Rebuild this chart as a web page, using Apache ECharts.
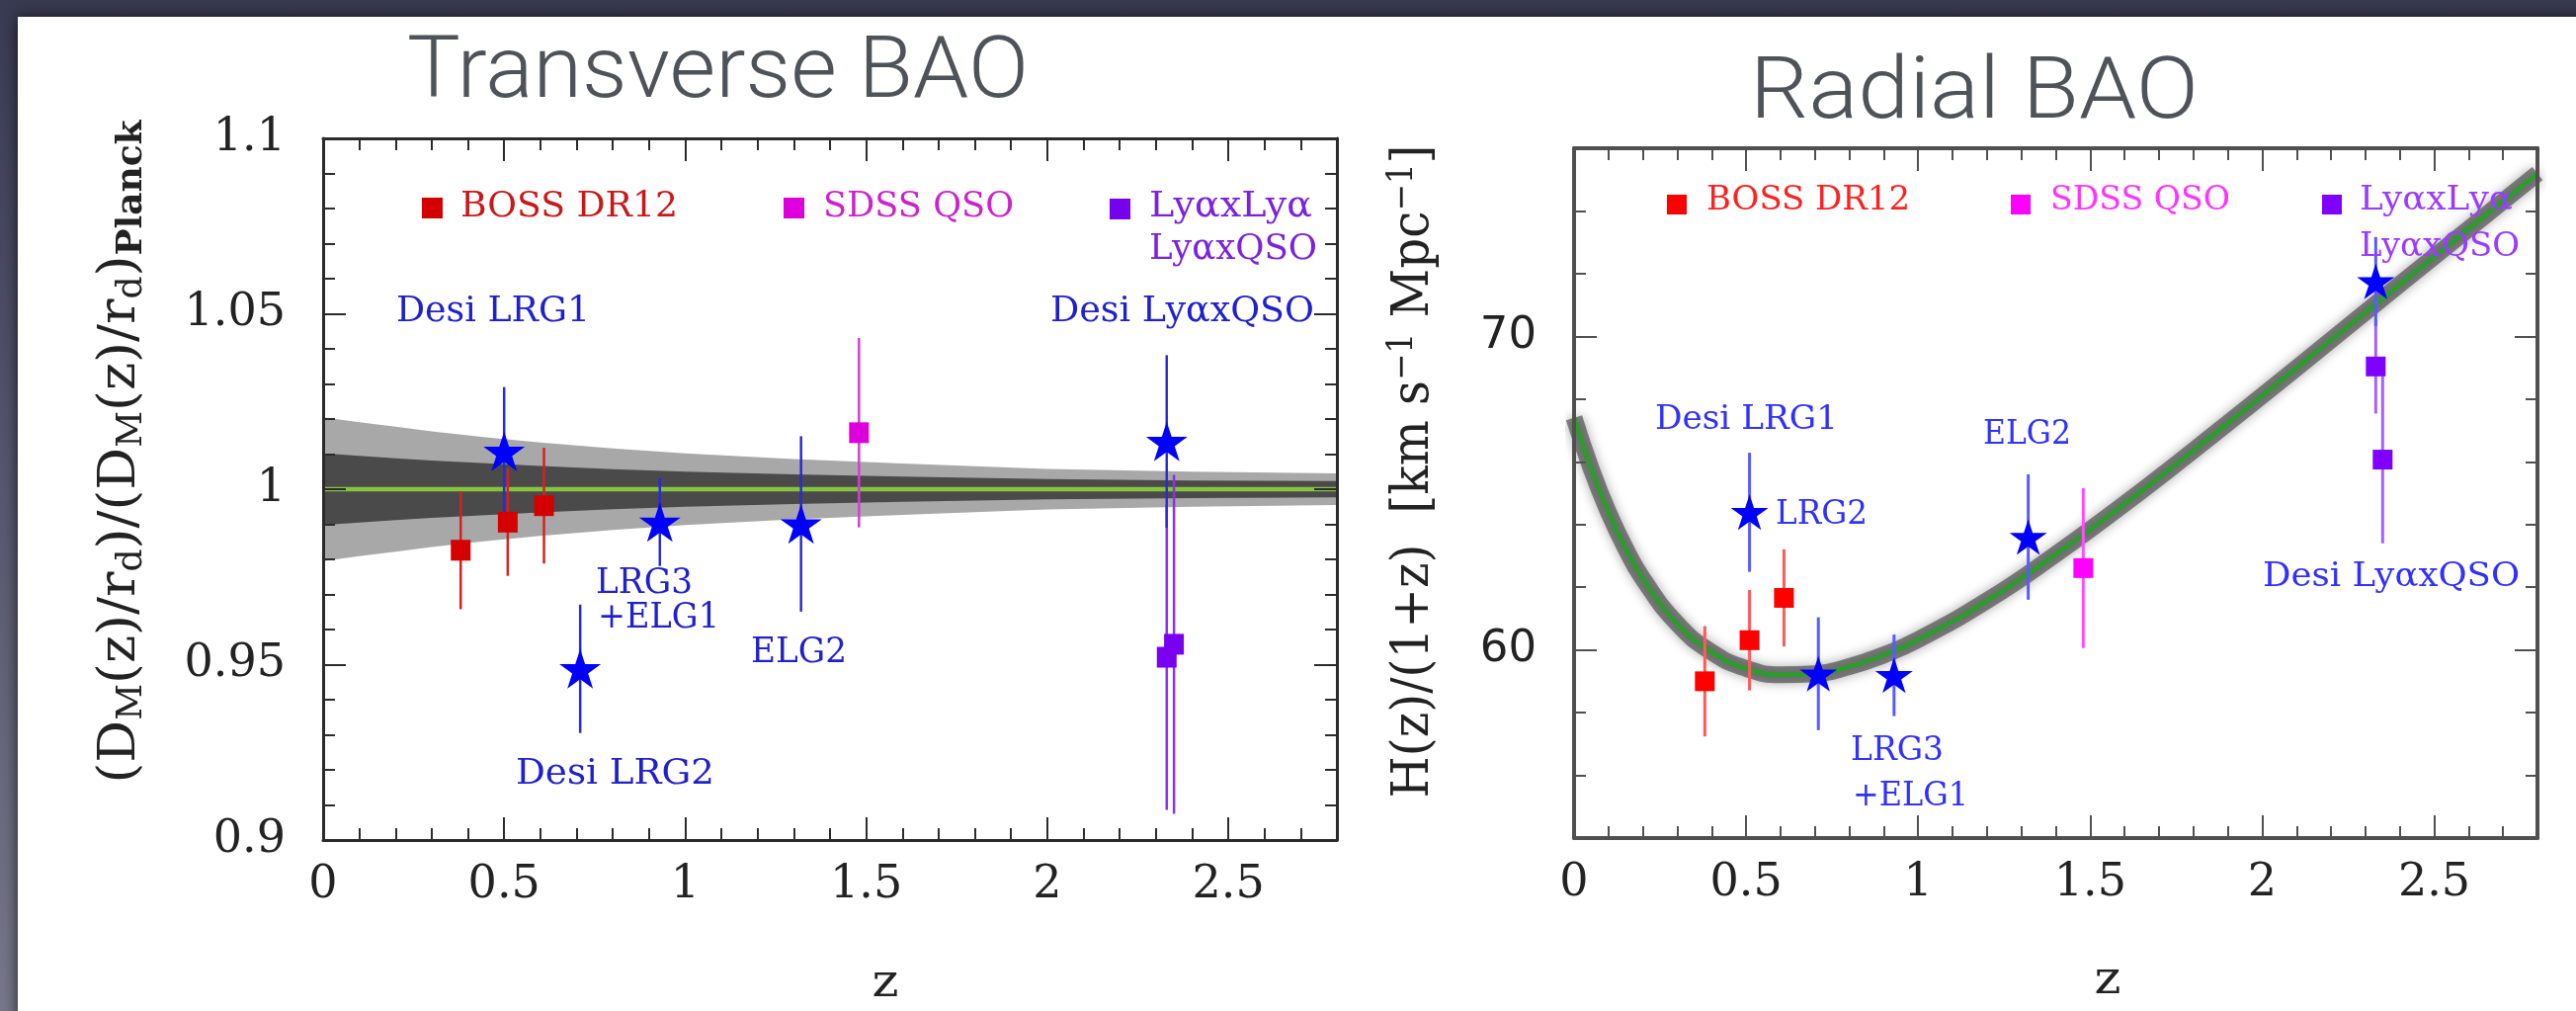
<!DOCTYPE html>
<html><head><meta charset="utf-8">
<script src="https://cdn.jsdelivr.net/npm/echarts@6.0.0/dist/echarts.min.js"></script>
<style>html,body{margin:0;padding:0;background:#3a3c54;overflow:hidden}#c{width:2607px;height:1023px}</style>
</head><body><div id="c"></div>
<script>
// ================= DATA =================
// tick values
const zTicks = [0, 0.5, 1, 1.5, 2, 2.5];
const tYTicks = [0.9, 0.95, 1, 1.05, 1.1];
const rYTicks = [60, 70];
const zMinor = []; for (let i = 1; i < 28; i++) if (i % 5) zMinor.push(i / 10);
const tYMinor = []; for (let i = 91; i < 110; i++) if (i % 5) tYMinor.push(i / 100);
const rYMinor = [56, 58, 62, 64, 66, 68, 72, 74];

// Transverse BAO (left)
const tBossZ = [0.38, 0.51, 0.61];
const tBossV = [0.9826, 0.9906, 0.9953];
const tBossE = [0.0168, 0.0153, 0.0165];
const tSdssZ = [1.48];
const tSdssV = [1.0161];
const tSdssE = [0.027];
const tLyaZ = [2.33, 2.35];
const tLyaV = [0.9521, 0.9558];
const tLyaE = [0.0435, 0.0483];
const tDesiZ = [0.50, 0.71, 0.93, 1.32, 2.33];
const tDesiV = [1.0108, 0.9488, 0.9906, 0.9901, 1.0136];
const tDesiE = [0.0183, 0.0183, 0.0125, 0.0250, 0.0246];
// Planck 1-sigma / 2-sigma half widths around 1
const bandZ = [0, 0.1, 0.2, 0.3, 0.45, 0.6, 0.8, 1.0, 1.3, 1.6, 2.0, 2.4, 2.8];
const band1 = [0.0102, 0.0095, 0.0088, 0.0082, 0.0074, 0.0066, 0.0057, 0.0050, 0.0042, 0.0036, 0.0029, 0.0025, 0.0023];
const band2 = [0.0205, 0.0191, 0.0178, 0.0165, 0.0148, 0.0133, 0.0116, 0.0102, 0.0086, 0.0073, 0.0058, 0.0050, 0.0045];
const refZ = [0, 2.8];
const refV = [1, 1];

// Radial BAO (right)
const rBossZ = [0.38, 0.51, 0.61];
const rBossV = [59.0, 60.31, 61.66];
const rBossE = [1.76, 1.6, 1.55];
const rSdssZ = [1.48];
const rSdssV = [62.61];
const rSdssE = [2.55];
const rLyaZ = [2.33, 2.35];
const rLyaV = [69.04, 66.07];
const rLyaE = [1.5, 2.67];
const rDesiZ = [0.51, 0.71, 0.93, 1.32, 2.33];
const rDesiV = [64.39, 59.24, 59.19, 63.6, 71.75];
const rDesiE = [1.9, 1.8, 1.3, 2.0, 1.42];
const curveZ = [0, 0.05, 0.1, 0.15, 0.2, 0.3, 0.4, 0.5, 0.6, 0.7, 0.8, 0.9, 1.0, 1.2, 1.4, 1.6, 1.8, 2.0, 2.2, 2.4, 2.6, 2.8];
const curveH = [67.4, 65.77, 64.39, 63.23, 62.27, 60.84, 59.93, 59.41, 59.21, 59.24, 59.47, 59.84, 60.33, 61.57, 63.05, 64.66, 66.36, 68.11, 69.88, 71.66, 73.43, 75.19];

// ================= STYLE / BUILD =================
const STAR = 'path://M50 0L61.23 34.55L97.55 34.55L68.16 55.9L79.39 90.45L50 69.1L20.61 90.45L31.84 55.9L2.45 34.55L38.77 34.55Z';
const SERIF = 'DejaVu Serif';
const SANS = 'DejaVu Sans';
const mctx = document.createElement('canvas').getContext('2d');
function textW(s, font) { mctx.font = font; return mctx.measureText(s).width; }

function axisSet(kind, gi, min, max, majors, minors, color, width) {
  const base = {type: 'value', gridIndex: gi, min, max, z: 10,
    splitLine: {show: false}, splitArea: {show: false}, axisPointer: {show: false}, axisLabel: {show: false}};
  const positions = kind === 'x' ? ['bottom', 'top'] : ['left', 'right'];
  const out = [];
  positions.forEach(pos => {
    out.push(Object.assign({}, base, {position: pos,
      axisLine: {show: true, onZero: false, lineStyle: {color, width}},
      axisTick: {show: true, inside: true, length: 23, customValues: majors, lineStyle: {color, width: 2}}}));
    out.push(Object.assign({}, base, {position: pos,
      axisLine: {show: false, onZero: false},
      axisTick: {show: true, inside: true, length: 12, customValues: minors, lineStyle: {color, width: 2}}}));
  });
  return out;
}

function errSeries(ai, zs, vs, es, color, width) {
  return {type: 'custom', xAxisIndex: ai, yAxisIndex: ai, z: 3, silent: true, clip: true,
    data: zs.map((z, i) => [z, vs[i] - es[i], vs[i] + es[i]]),
    encode: {x: 0, y: [1, 2]},
    renderItem: (params, api) => {
      const a = api.coord([api.value(0), api.value(1)]);
      const b = api.coord([api.value(0), api.value(2)]);
      return {type: 'line', shape: {x1: a[0], y1: a[1], x2: b[0], y2: b[1]}, style: {stroke: color, lineWidth: width}};
    }};
}
function bandSeries(ai, zs, center, half, color) {
  return {type: 'custom', xAxisIndex: ai, yAxisIndex: ai, z: 1, silent: true, clip: true,
    data: zs.map((z, i) => [z, center - half[i], center + half[i]]),
    encode: {x: 0, y: [1, 2]},
    renderItem: (params, api) => {
      if (params.dataIndex !== 0) return null;
      const pts = [];
      for (let i = 0; i < zs.length; i++) pts.push(api.coord([zs[i], center + half[i]]));
      for (let i = zs.length - 1; i >= 0; i--) pts.push(api.coord([zs[i], center - half[i]]));
      return {type: 'polygon', shape: {points: pts}, style: {fill: color}};
    }};
}
function markSeries(ai, zs, vs, symbol, size, color) {
  return {type: 'scatter', xAxisIndex: ai, yAxisIndex: ai, z: 4, silent: true, symbol, symbolSize: size,
    itemStyle: {color, opacity: 1}, data: zs.map((z, i) => [z, vs[i]])};
}
function lineSeries(ai, zs, vs, opt) {
  return Object.assign({type: 'line', xAxisIndex: ai, yAxisIndex: ai, symbol: 'none', silent: true,
    data: zs.map((z, i) => [z, vs[i]])}, opt);
}

const xAxes = [].concat(
  axisSet('x', 0, 0, 2.8, zTicks, zMinor, '#2b2b2b', 3),
  axisSet('x', 1, 0, 2.8, zTicks, zMinor, '#505050', 4)
);
const yAxes = [].concat(
  axisSet('y', 0, 0.9, 1.1, tYTicks, tYMinor, '#2b2b2b', 3),
  axisSet('y', 1, 54, 76, rYTicks, rYMinor, '#505050', 4)
);

const series = [
  // left bands
  bandSeries(0, bandZ, 1, band2, '#a8a8a8'),
  bandSeries(0, bandZ, 1, band1, '#4a4a4a'),
  lineSeries(0, refZ, refV, {z: 2, lineStyle: {color: '#86c440', width: 4.5}}),
  errSeries(0, tBossZ, tBossV, tBossE, '#d42222', 2.5),
  errSeries(0, tSdssZ, tSdssV, tSdssE, '#d040d0', 2.5),
  errSeries(0, tLyaZ, tLyaV, tLyaE, '#8a30f0', 2.5),
  errSeries(0, tDesiZ, tDesiV, tDesiE, '#2a2ad8', 2.5),
  markSeries(0, tBossZ, tBossV, 'rect', [20, 21], '#d40000'),
  markSeries(0, tSdssZ, tSdssV, 'rect', [20, 21], '#dd00dd'),
  markSeries(0, tLyaZ, tLyaV, 'rect', [20, 21], '#7a00f0'),
  markSeries(0, tDesiZ, tDesiV, STAR, [42, 40], '#0000ff'),
  // right curve
  lineSeries(4, curveZ, curveH, {smooth: 0.5, z: 1, lineStyle: {color: 'rgba(70,70,70,0.65)', width: 17, shadowBlur: 12, shadowColor: 'rgba(0,0,0,0.5)'}}),
  lineSeries(4, curveZ, curveH, {smooth: 0.5, z: 2, lineStyle: {color: '#2f9a2f', width: 5}}),
  errSeries(4, rBossZ, rBossV, rBossE, '#ff5a5a', 3),
  errSeries(4, rSdssZ, rSdssV, rSdssE, '#ff4cff', 3),
  errSeries(4, rLyaZ, rLyaV, rLyaE, '#a660ff', 3),
  errSeries(4, rDesiZ, rDesiV, rDesiE, '#5a5aff', 3),
  markSeries(4, rBossZ, rBossV, 'rect', [20, 20], '#ff0000'),
  markSeries(4, rSdssZ, rSdssV, 'rect', [20, 20], '#ff00ff'),
  markSeries(4, rLyaZ, rLyaV, 'rect', [20, 20], '#8000ff'),
  markSeries(4, rDesiZ, rDesiV, STAR, [38, 36], '#0000ff')
];

// ---- texts ----
function txt(x, y, s, size, color, width) {
  const sc = width ? width / textW(s, size + 'px ' + SERIF) : 1;
  return {type: 'text', x, y, z: 100, silent: true, scaleX: sc,
    style: {text: s, fontFamily: SERIF, fontSize: size, fill: color, align: 'left', verticalAlign: 'middle'}};
}
// tick-label text, widened to the digit widths seen in the picture
function gtext(x, y, s, size, family, align, valign, width) {
  const sc = width ? width / textW(s, size + 'px ' + family) : 1;
  return {type: 'text', x, y, z: 100, silent: true, scaleX: sc,
    style: {text: s, fontFamily: family, fontSize: size, fill: '#222', align, verticalAlign: valign}};
}
function labelWidth(s, digitW, dotW) {
  let w = 0;
  for (const ch of s) w += ch === '.' ? dotW : digitW;
  return w;
}
function sq(x, y, s, color) { return {type: 'rect', z: 100, silent: true, shape: {x, y, width: s, height: s}, style: {fill: color}}; }

const TFONT_SIZE = 87;
function title(x, y, s, target) {
  const sc = target / textW(s, '300 ' + TFONT_SIZE + 'px Roboto');
  return {type: 'text', x, y, z: 100, scaleX: sc, silent: true,
    style: {text: s, fontFamily: 'Roboto', fontWeight: 300, fontSize: TFONT_SIZE, fill: '#4e535a', align: 'left', verticalAlign: 'middle'}};
}

function richName(cx, cy, parts, styles, target) {
  let total = 0, str = '';
  parts.forEach(p => {
    const st = styles[p[1]];
    total += textW(p[0], (st.fontWeight || 'normal') + ' ' + st.fontSize + 'px ' + SERIF);
    str += '{' + p[1] + '|' + p[0] + '}';
  });
  const rich = {};
  Object.keys(styles).forEach(k => { rich[k] = Object.assign({fontFamily: SERIF, fill: '#222'}, styles[k]); });
  return {type: 'text', x: cx, y: cy, rotation: Math.PI / 2, scaleX: target / total, z: 100, silent: true,
    style: {text: str, rich, align: 'center', verticalAlign: 'middle', fill: '#222', fontFamily: SERIF}};
}

const tNameParts = [['(D', 'm'], ['M', 's'], ['(z)/r', 'm'], ['d', 's'], [')/(D', 'm'], ['M', 's'], ['(z)/r', 'm'], ['d', 's'], [')', 'm'], ['Planck', 'b']];
const tNameStyles = {m: {fontSize: 52, lineHeight: 58}, s: {fontSize: 35, lineHeight: 22, verticalAlign: 'bottom'}, b: {fontSize: 35, fontWeight: 'bold', lineHeight: 22, verticalAlign: 'bottom'}};
const rNameParts = [['H(z)/(1+z)  [km s', 'm'], ['\u22121', 'p'], [' Mpc', 'm'], ['\u22121', 'p'], [']', 'm']];
const rNameStyles = {m: {fontSize: 52, lineHeight: 58}, p: {fontSize: 35, lineHeight: 22, verticalAlign: 'top'}};

const graphics = [
  {type: 'rect', z: -10, silent: true, shape: {x: 0, y: 0, width: 2607, height: 1023},
    style: {fill: {type: 'linear', x: 0, y: 0, x2: 0, y2: 1, colorStops: [{offset: 0, color: '#383a52'}, {offset: 1, color: '#76778a'}]}}},
  {type: 'rect', z: -9, silent: true, shape: {x: 18, y: 17, width: 2600, height: 1020},
    style: {fill: '#ffffff', shadowBlur: 14, shadowColor: 'rgba(0,0,0,0.7)'}},
  title(412, 76, 'Transverse BAO', 629),
  title(1771, 97, 'Radial BAO', 454),
  richName(122, 457, tNameParts, tNameStyles, 671),
  richName(1431, 477, rNameParts, rNameStyles, 661),
  gtext(896, 996, 'z', 46, SERIF, 'center', 'middle', 27),
  gtext(2133, 993, 'z', 46, SERIF, 'center', 'middle', 27),
  // left legend
  sq(427, 200, 21, '#d40000'), txt(466, 210, 'BOSS DR12', 35, '#c81818', 220),
  sq(793, 200, 21, '#dd00dd'), txt(833, 210, 'SDSS QSO', 35, '#cc22cc', 193),
  sq(1123, 201, 21, '#7700ee'), txt(1163, 210, 'Ly\u03b1xLy\u03b1', 35, '#7a22dd', 165), txt(1163, 253, 'Ly\u03b1xQSO', 35, '#7a22dd', 170),
  // left DESI labels
  txt(401, 316, 'Desi LRG1', 35, '#2020cc', 196),
  txt(1063, 316, 'Desi Ly\u03b1xQSO', 35, '#2020cc', 267),
  txt(603, 591, 'LRG3', 35, '#2020cc', 98),
  txt(605, 626, '+ELG1', 35, '#2020cc', 123),
  txt(760, 661, 'ELG2', 35, '#2020cc', 97),
  txt(522, 784, 'Desi LRG2', 35, '#2020cc', 201),
  // right legend
  sq(1687, 197, 20, '#ff0000'), txt(1727, 203, 'BOSS DR12', 34, '#ff2020', 206),
  sq(2035, 197, 20, '#ff00ff'), txt(2075, 203, 'SDSS QSO', 34, '#ff33ff', 182),
  sq(2350, 197, 20, '#8000ff'), txt(2388, 203, 'Ly\u03b1xLy\u03b1', 34, '#9a3cff', 155), txt(2388, 250, 'Ly\u03b1xQSO', 34, '#9a3cff', 162),
  // right DESI labels
  txt(1675, 425, 'Desi LRG1', 34, '#3030ff', 185),
  txt(1797, 521, 'LRG2', 34, '#3030ff', 93),
  txt(2007, 440, 'ELG2', 34, '#3030ff', 89),
  txt(1873, 760, 'LRG3', 34, '#3030ff', 94),
  txt(1875, 806, '+ELG1', 34, '#3030ff', 117),
  txt(2290, 584, 'Desi Ly\u03b1xQSO', 34, '#3030ff', 260)
];

const chart = echarts.init(document.getElementById('c'), null, {renderer: 'canvas'});
chart.setOption({
  animation: false,
  backgroundColor: 'transparent',
  grid: [
    {left: 327, top: 140, width: 1026, height: 710, containLabel: false, outerBoundsMode: 'none'},
    {left: 1593, top: 150, width: 975, height: 698, containLabel: false, outerBoundsMode: 'none'}
  ],
  xAxis: xAxes,
  yAxis: yAxes,
  series
});

// tick labels placed through the axes' own scales
function tickLabels(xi, yi, yMin, xMin, yTicks, yFamily, ySize, yDigitW, yDotW) {
  const out = [];
  const axisY = chart.convertToPixel({yAxisIndex: yi}, yMin);
  const axisX = chart.convertToPixel({xAxisIndex: xi}, xMin);
  zTicks.forEach(v => {
    const s = String(v);
    out.push(gtext(chart.convertToPixel({xAxisIndex: xi}, v), axisY + 23, s, 46, SERIF, 'center', 'top', labelWidth(s, 29.3, 14.6)));
  });
  yTicks.forEach(v => {
    const s = String(v);
    out.push(gtext(axisX - 38, chart.convertToPixel({yAxisIndex: yi}, v), s, ySize, yFamily, 'right', 'middle', labelWidth(s, yDigitW, yDotW)));
  });
  return out;
}
chart.setOption({graphic: graphics.concat(
  tickLabels(0, 0, 0.9, 0, tYTicks, SERIF, 46, 29.3, 14.6),
  tickLabels(4, 4, 54, 0, rYTicks, SANS, 45, 28.6, 14.3)
)});
</script>
</body></html>
